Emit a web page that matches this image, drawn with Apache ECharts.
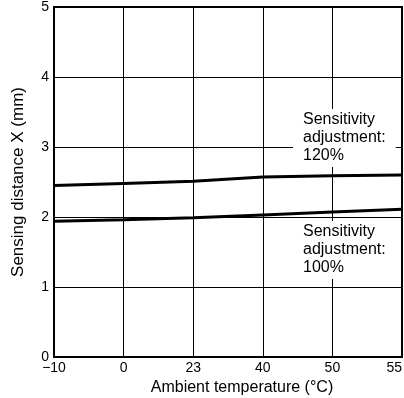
<!DOCTYPE html>
<html><head><meta charset="utf-8">
<script src="https://cdn.jsdelivr.net/npm/echarts@6/dist/echarts.min.js"></script>
<style>html,body{margin:0;padding:0;background:#fff}#c{width:404px;height:398px}</style>
</head><body><div id="c"></div>
<script>
const categories = ['\u221210', '0', '23', '40', '50', '55'];
const sens120 = [2.45, 2.48, 2.51, 2.57, 2.59, 2.60];
const sens100 = [1.94, 1.96, 1.99, 2.03, 2.07, 2.11];
const yTicks = [0, 1, 2, 3, 4, 5];
const label120 = 'Sensitivity\nadjustment:\n120%';
const label100 = 'Sensitivity\nadjustment:\n100%';

const chart = echarts.init(document.getElementById('c'));
const font = 'Liberation Sans, Arial, sans-serif';
chart.setOption({
  animation: false,
  grid: { left: 54, right: 2, top: 7, bottom: 41, show: true, borderColor: '#000', borderWidth: 2, z: 5,
    containLabel: false, outerBoundsMode: 'none' },
  xAxis: {
    type: 'category', data: categories, boundaryGap: false,
    name: 'Ambient temperature (\u00b0C)', nameLocation: 'middle', nameGap: 22,
    nameTextStyle: { fontFamily: font, fontSize: 16, color: '#000', padding: [0, 0, 0, 28] },
    axisLine: { show: false }, axisTick: { show: false },
    axisLabel: { fontFamily: font, fontSize: 14, color: '#000', margin: 4, alignMaxLabel: 'right' },
    splitLine: { show: true, lineStyle: { color: '#000', width: 1 } }
  },
  yAxis: {
    type: 'value', min: 0, max: 5, interval: 1,
    name: 'Sensing distance X (mm)', nameLocation: 'middle', nameGap: 27,
    nameTextStyle: { fontFamily: font, fontSize: 17, color: '#000' },
    axisLine: { show: false }, axisTick: { show: false },
    axisLabel: { fontFamily: font, fontSize: 14, color: '#000', margin: 5,
      formatter: function (v) { return yTicks.indexOf(v) >= 0 ? String(v) : ''; } },
    splitLine: { show: true, lineStyle: { color: '#000', width: 1 } }
  },
  series: [
    { type: 'line', data: sens120, symbol: 'none', lineStyle: { color: '#000', width: 3 }, z: 3 },
    { type: 'line', data: sens100, symbol: 'none', lineStyle: { color: '#000', width: 3 }, z: 3 }
  ],
  graphic: [
    { type: 'text', left: 293, top: 109, z: 10,
      style: { text: label120, font: '16px ' + font, fill: '#000', lineHeight: 18,
        backgroundColor: '#fff', padding: [2, 10, 2, 10] } },
    { type: 'text', left: 293, top: 221, z: 10,
      style: { text: label100, font: '16px ' + font, fill: '#000', lineHeight: 18,
        backgroundColor: '#fff', padding: [2, 10, 2, 10] } }
  ]
});
</script></body></html>
